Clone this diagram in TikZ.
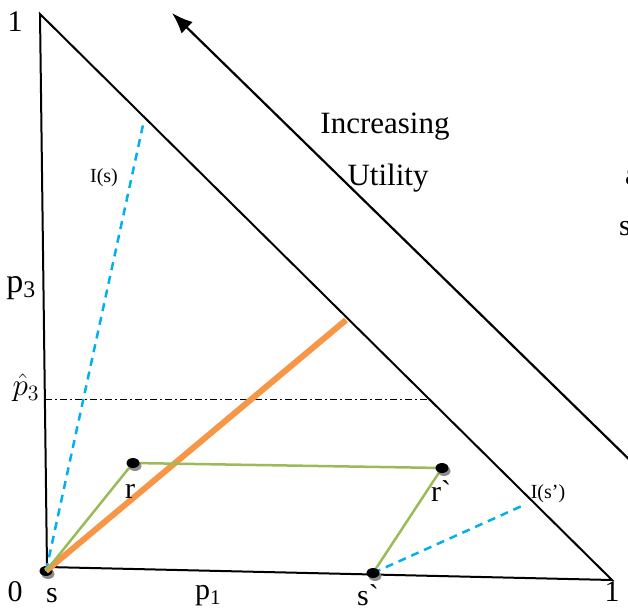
\documentclass[tikz,border=0pt]{standalone}
\usepackage{fix-cm}
\usepackage{fontspec}
\setmainfont{Liberation Serif}
\newfontfamily\rawserif[Ligatures=TeXOff]{Liberation Serif}
\usetikzlibrary{positioning,arrows.meta,shadows,shapes.geometric}
\definecolor{utilorange}{HTML}{F79646}
\definecolor{utilgreen}{HTML}{9BBB59}
\definecolor{utilblue}{HTML}{00B0F0}

\begin{document}
\begin{tikzpicture}[x=1pt, y=-1pt,
  lbl/.style={font=\fontsize{30}{34}\selectfont, inner sep=0pt},
  biglbl/.style={font=\fontsize{31}{36}\selectfont, inner sep=0pt},
  smalllbl/.style={font=\fontsize{20}{24}\selectfont, inner sep=0pt},
  lottery/.style={ellipse, fill=black, inner sep=0pt, minimum width=13pt, minimum height=10pt,
    drop shadow={shadow xshift=2pt, shadow yshift=-3pt, fill=gray, opacity=0.9}},
  edge/.style={line width=2pt},
  path/.style={utilgreen, line width=2.5pt},
  indiff/.style={utilblue, line width=2.5pt, dash pattern=on 8pt off 6pt}]
\useasboundingbox (0,0) rectangle (628,612);
% simplex corners
\coordinate (top) at (40,14);
\coordinate (origin) at (47,567);
\coordinate (right) at (612,580);
\draw[edge] (top) -- (origin) -- (right) -- cycle;
% direction of increasing utility
\coordinate (utail) at (640,470);
\coordinate (uhead) at (172,13);
\draw[line width=2.2pt, -{Latex[length=21pt,width=16pt]}] (utail) -- (uhead);
\node[biglbl] (incr) at (385,127) {Increasing};
\node[biglbl] (util) at (388,178) {Utility};
% cut-off text at the right border
\node[lbl, anchor=west] (cuta) at (625,178) {a};
\node[lbl, anchor=west] (cuts) at (619,229) {s};
% axis labels
\node[lbl] (onetop) at (15,22) {1};
\node[lbl] (zero) at (15,592) {0};
\node[lbl] (oneright) at (612,592) {1};
\node[lbl, font=\fontsize{34}{38}\selectfont] (pthree) at (21,288) {p\textsubscript{3}};
\node[lbl] (pone) at (208,596) {p\textsubscript{1}};
\node[lbl, font=\fontsize{24}{28}\selectfont] (phat) at (26,388) {\scalebox{1.3}{$\hat{p}_3$}};
% threshold line
\coordinate (hleft) at (45,399);
\coordinate (hright) at (428,399);
\draw[line width=1pt, dash pattern=on 7pt off 3pt on 2pt off 3pt] (hleft) -- (hright);
% lotteries
\node[lottery] (s) at (46,571) {};
\coordinate (r) at (133,463);
\coordinate (rp) at (442,468);
\coordinate (sp) at (373,573);
% indifference curves
\coordinate (Isend) at (143,125);
\coordinate (Ispend) at (524,505);
\draw[indiff] (s.center) -- (Isend);
\draw[indiff] (sp) -- (Ispend);
\node[smalllbl] (Is) at (104,178) {I(s)};
\node[smalllbl] (Isp) at (548,494) {I(s’)};
% expected value line
\coordinate (ohead) at (346,320);
\draw[utilorange, line width=6pt] (s.center) -- (ohead);
% mean preserving spread
\draw[path] (s.center) -- (r);
\draw[path] (r) -- (rp);
\draw[path] (rp) -- (sp);
\node[lottery] (rdot) at (r) {};
\node[lottery] (rpdot) at (rp) {};
\node[lottery] (spdot) at (sp) {};
% lottery labels
\node[lbl] (slbl) at (52,596) {s};
\node[lbl] (rlbl) at (130,491) {r};
\node[lbl, font=\fontsize{30}{34}\rawserif] (rplbl) at (441,491) {r`};
\node[lbl, font=\fontsize{30}{34}\rawserif] (splbl) at (368,595) {s`};
\end{tikzpicture}
\end{document}
